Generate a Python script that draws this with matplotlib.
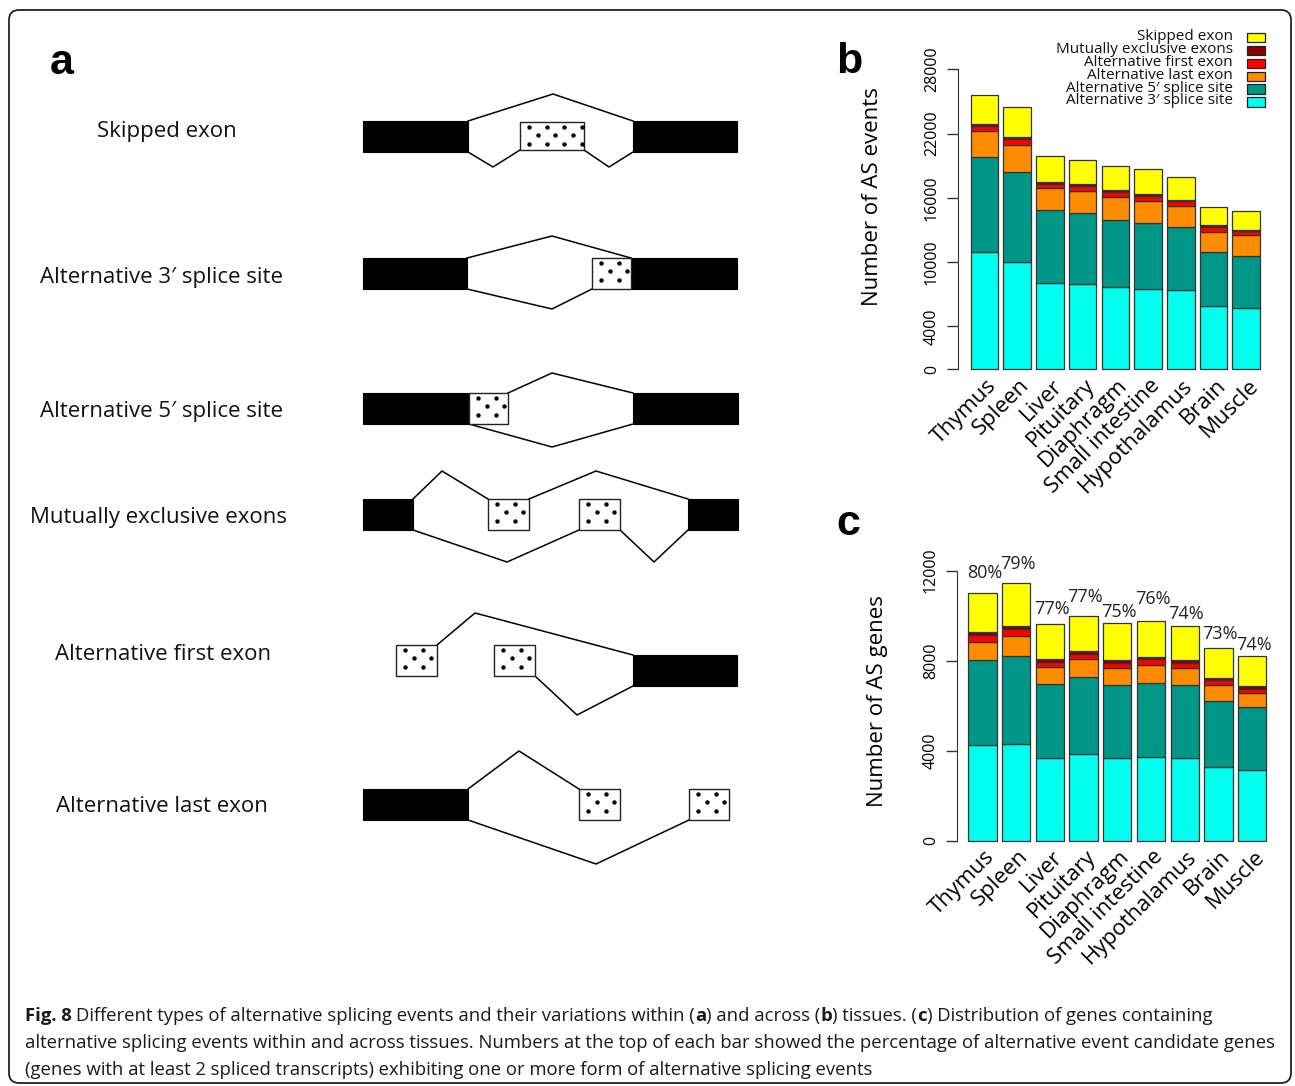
import numpy as np
import matplotlib
matplotlib.use("Agg")
import matplotlib.pyplot as plt
from matplotlib.patches import Rectangle, FancyBboxPatch
from matplotlib import transforms as mtransforms

plt.rcParams['font.family'] = ['Open Sans', 'DejaVu Sans']

# ---- data -------------------------------------------------------------
tissues = ["Thymus", "Spleen", "Liver", "Pituitary", "Diaphragm",
           "Small intestine", "Hypothalamus", "Brain", "Muscle"]

# stacking order: bottom -> top
event_types = ["Alternative 3\u2032 splice site", "Alternative 5\u2032 splice site",
               "Alternative last exon", "Alternative first exon",
               "Mutually exclusive exons", "Skipped exon"]
colors = ['#00FFEE', '#009688', '#FF8C00', '#FF0000', '#8B0000', '#FFFF00']

# panel b: number of AS events
events_a3 = [10970, 10030, 8060, 7970, 7660, 7470, 7380, 5880, 5750]
events_a5 = [8810, 8410, 6780, 6590, 6240, 6190, 5870, 5090, 4840]
events_ale = [2500, 2500, 2060, 2100, 2190, 2090, 2030, 1870, 1910]
events_afe = [470, 560, 440, 460, 470, 440, 410, 440, 380]
events_mxe = [190, 220, 160, 190, 160, 190, 150, 160, 120]
events_se = [2690, 2750, 2400, 2190, 2250, 2280, 2100, 1690, 1750]

# panel c: number of AS genes
genes_a3 = [4270, 4310, 3690, 3850, 3660, 3720, 3690, 3260, 3130]
genes_a5 = [3770, 3900, 3260, 3420, 3240, 3300, 3230, 2930, 2800]
genes_ale = [800, 890, 770, 790, 790, 790, 740, 710, 650]
genes_afe = [300, 290, 220, 240, 220, 250, 240, 230, 180]
genes_mxe = [130, 150, 120, 130, 130, 120, 110, 80, 100]
genes_se = [1750, 1900, 1570, 1570, 1620, 1570, 1520, 1350, 1360]

pct_genes = [80, 79, 77, 77, 75, 76, 74, 73, 74]
pct_offset = [890, 860, 650, 840, 520, 990, 550, 610, 480]

events_ticks = [0, 4000, 10000, 16000, 22000, 28000]
genes_ticks = [0, 4000, 8000, 12000]

# ---- figure -----------------------------------------------------------
W, H = 1295, 1086
fig = plt.figure(figsize=(W / 100, H / 100), dpi=100)
bg = fig.add_axes([0, 0, 1, 1])
bg.set_xlim(0, W)
bg.set_ylim(H, 0)
bg.axis('off')


def px_axes(left, top, right, bottom):
    return fig.add_axes([left / W, 1 - bottom / H, (right - left) / W, (bottom - top) / H])


# outer frame
bg.add_patch(FancyBboxPatch((9, 10), 1282, 1073, boxstyle='round,pad=0,rounding_size=10',
                            fc='none', ec='#222222', lw=1.3))

# ---- panel a: splicing diagrams ----------------------------------------
def exon(x0, x1, y0, y1, dotted=False):
    if not dotted:
        bg.add_patch(Rectangle((x0, y0), x1 - x0, y1 - y0, fc='black', ec='black', lw=0.8))
        return
    bg.add_patch(Rectangle((x0, y0), x1 - x0, y1 - y0, fc='white', ec='#222222', lw=1.0, zorder=2))
    xs, ys = [], []
    for k, yy in enumerate(np.arange(y0 + 4.5, y1 - 2, 8.7)):
        start = x0 + (9 if k % 2 == 0 else 17.6)
        for xx in np.arange(start, x1 - 1, 17.6):
            xs.append(xx)
            ys.append(yy)
    bg.scatter(xs, ys, s=10, c='black', lw=0, zorder=3)


def junction(*pts):
    bg.plot([p[0] for p in pts], [p[1] for p in pts], color='black', lw=1.1, zorder=1)


# skipped exon
exon(363, 468, 121, 152)
exon(633, 737, 121, 152)
exon(520, 584, 122, 150, dotted=True)
junction((468, 121), (553, 94), (633, 121))
junction((468, 152), (493, 167), (520, 150))
junction((584, 150), (609, 167), (633, 152))

# alternative 3' splice site
exon(363, 467, 258, 289)
exon(631, 737, 258, 289)
exon(592, 631, 258, 289, dotted=True)
junction((467, 258), (552, 236), (631, 258))
junction((467, 289), (552, 309), (592, 289))

# alternative 5' splice site
exon(363, 469, 393, 424)
exon(633, 738, 393, 424)
exon(469, 508, 393, 424, dotted=True)
junction((508, 393), (552, 373), (633, 393))
junction((469, 424), (552, 447), (633, 424))

# mutually exclusive exons
exon(363, 413, 499, 530)
exon(688, 738, 499, 530)
exon(488, 529, 499, 530, dotted=True)
exon(579, 620, 499, 530, dotted=True)
junction((413, 499), (442, 471), (488, 499))
junction((529, 499), (596, 471), (688, 499))
junction((413, 530), (507, 562), (579, 530))
junction((620, 530), (654, 562), (688, 530))

# alternative first exon
exon(633, 737, 655, 686)
exon(396, 437, 645, 676, dotted=True)
exon(494, 535, 645, 676, dotted=True)
junction((437, 645), (475, 613), (633, 655))
junction((535, 676), (577, 715), (633, 686))

# alternative last exon
exon(363, 468, 789, 820)
exon(579, 620, 789, 820, dotted=True)
exon(689, 729, 789, 820, dotted=True)
junction((468, 789), (519, 751), (579, 789))
junction((468, 820), (596, 864), (689, 820))

diagram_labels = [("Skipped exon", 167, 132),
                  ("Alternative 3\u2032 splice site", 162, 277),
                  ("Alternative 5\u2032 splice site", 162, 411),
                  ("Mutually exclusive exons", 158, 518),
                  ("Alternative first exon", 163, 655),
                  ("Alternative last exon", 162, 806)]
for txt, cx, cy in diagram_labels:
    bg.text(cx, cy, txt, ha='center', va='center', fontsize=16, color='#111111')

# panel letters
letter_font = ['Liberation Sans', 'DejaVu Sans']
bg.text(50, 74, 'a', fontsize=31, fontweight='bold', family=letter_font, va='baseline')
bg.text(836, 73, 'b', fontsize=31, fontweight='bold', family=letter_font, va='baseline')
bg.text(836, 535, 'c', fontsize=31, fontweight='bold', family=letter_font, va='baseline')


# ---- panels b and c: stacked bars --------------------------------------
def stacked(ax, layers, yticks):
    x = np.arange(len(tissues))
    bottom = np.zeros(len(tissues))
    for vals, col in zip(layers, colors):
        ax.bar(x, vals, width=0.84, bottom=bottom, color=col,
               edgecolor='#333333', linewidth=0.9)
        bottom += np.array(vals)
    for s in ['top', 'right', 'bottom']:
        ax.spines[s].set_visible(False)
    ax.spines['left'].set_bounds(yticks[0], yticks[-1])
    ax.spines['left'].set_color('#333333')
    ax.set_yticks(yticks)
    ax.set_yticklabels([str(t) for t in yticks], rotation=90, va='center')
    ax.tick_params(axis='y', length=8, width=1, pad=5, labelsize=11.5, color='#333333')
    ax.set_xticks(x)
    ax.set_xticklabels(tissues, rotation=45, ha='right', va='center',
                       rotation_mode='anchor', fontsize=16)
    ax.tick_params(axis='x', length=0, pad=1)
    shift = mtransforms.ScaledTranslation(9 / 100, 0, fig.dpi_scale_trans)
    for lab in ax.get_xticklabels():
        lab.set_transform(lab.get_transform() + shift)
    ax.patch.set_alpha(0)
    return bottom


ax_b = px_axes(958, 28, 1275, 381)
stacked(ax_b, [events_a3, events_a5, events_ale, events_afe, events_mxe, events_se], events_ticks)
ax_b.set_xlim(-0.81, 8.88)
ax_b.set_ylim(-1092, 31854)

ax_c = px_axes(957, 540, 1280, 852)
totals_c = stacked(ax_c, [genes_a3, genes_a5, genes_ale, genes_afe, genes_mxe, genes_se], genes_ticks)
ax_c.set_xlim(-0.76, 8.83)
ax_c.set_ylim(-502, 13363)
for i, (tot, p, off) in enumerate(zip(totals_c, pct_genes, pct_offset)):
    ax_c.text(i + 0.05, tot + off, "{}%".format(p), ha='center', va='center',
              fontsize=13, color='#222222', clip_on=False)

bg.text(873, 197, "Number of AS events", rotation=90, ha='center', va='center', fontsize=16)
bg.text(877, 701, "Number of AS genes", rotation=90, ha='center', va='center', fontsize=16)

# legend for panel b (top entry = top of stack)
for k, (name, col) in enumerate(zip(event_types[::-1], colors[::-1])):
    y = 37.5 + k * 12.9
    bg.text(1233, y - 1, name, ha='right', va='center', fontsize=11, color='#111111')
    bg.add_patch(Rectangle((1247, y - 4.7), 18, 9.4, fc=col, ec='#222222', lw=0.9))

# ---- caption ---------------------------------------------------------
renderer = fig.canvas.get_renderer()
cap_size = 13.3


def rich_line(x, y, parts):
    for txt, wt in parts:
        if txt == " ":
            a = bg.text(0, 0, "a a", fontsize=cap_size)
            b = bg.text(0, 0, "aa", fontsize=cap_size)
            x += a.get_window_extent(renderer).width - b.get_window_extent(renderer).width
            a.remove()
            b.remove()
            continue
        t = bg.text(x, y, txt, fontsize=cap_size, fontweight=wt, ha='left', va='baseline',
                    color='#1a1a1a')
        x += t.get_window_extent(renderer).width


rich_line(25, 1021, [("Fig. 8", 'bold'), (" ", 'normal'),
                     ("Different types of alternative splicing events and their variations within (", 'normal'),
                     ("a", 'bold'), (") and across (", 'normal'), ("b", 'bold'),
                     (") tissues. (", 'normal'), ("c", 'bold'),
                     (") Distribution of genes containing", 'normal')])
rich_line(25, 1048, [("alternative splicing events within and across tissues. Numbers at the top of each bar "
                      "showed the percentage of alternative event candidate genes", 'normal')])
rich_line(25, 1075, [("(genes with at least 2 spliced transcripts) exhibiting one or more form of "
                      "alternative splicing events", 'normal')])

fig.savefig("out.png", dpi=100)
